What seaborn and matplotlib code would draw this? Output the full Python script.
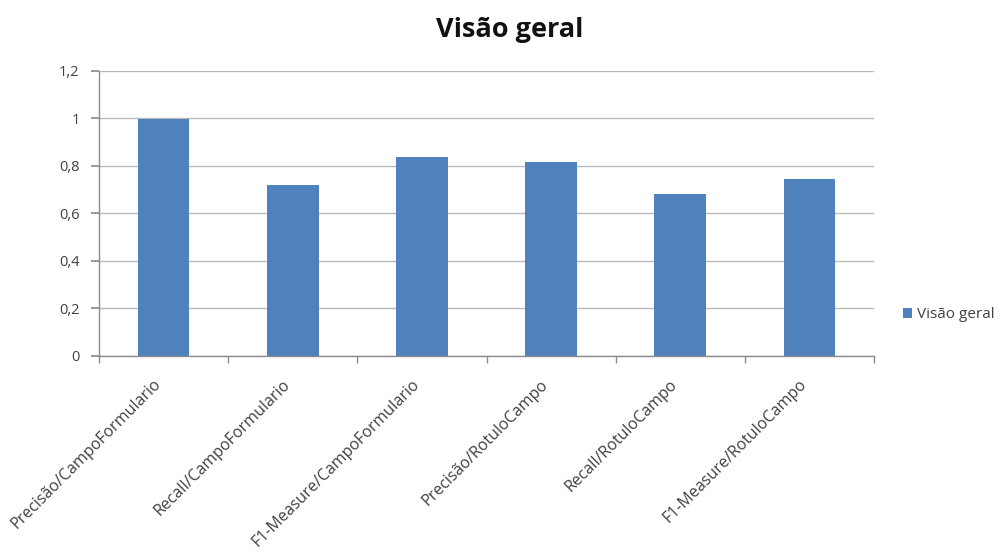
import matplotlib
matplotlib.use("Agg")
import matplotlib.pyplot as plt
import matplotlib.transforms as mtransforms
import seaborn as sns
import pandas as pd
import numpy as np

categories = ["Precisão/CampoFormulario", "Recall/CampoFormulario", "F1-Measure/CampoFormulario",
              "Precisão/RotuloCampo", "Recall/RotuloCampo", "F1-Measure/RotuloCampo"]
values = [0.997, 0.721, 0.838, 0.818, 0.683, 0.746]
series_name = "Visão geral"
yticks = [0, 0.2, 0.4, 0.6, 0.8, 1.0, 1.2]
ytick_labels = ["0", "0,2", "0,4", "0,6", "0,8", "1", "1,2"]

sns.set_theme(style="white")
plt.rcParams['font.family'] = ['Open Sans', 'DejaVu Sans']

df = pd.DataFrame({"cat": categories, "val": values, "serie": series_name})

fig = plt.figure(figsize=(10.03, 5.54), dpi=100)
ax = fig.add_axes([0.0987, 0.358, 0.7727, 0.514])

sns.barplot(data=df, x="cat", y="val", hue="serie", palette=["#4F81BD"], width=0.4,
            ax=ax, saturation=1, edgecolor="none")

ax.set_ylim(0, 1.2)
ax.set_xlim(-0.5, len(categories) - 0.5)
ax.set_yticks(yticks)
ax.set_yticklabels(ytick_labels, fontsize=10.5, color="#404040")
ax.yaxis.grid(True, color="#B9B9B9", linewidth=1)
ax.set_axisbelow(True)
ax.set_xlabel("")
ax.set_ylabel("")

for s in ["top", "right"]:
    ax.spines[s].set_visible(False)
for s in ["left", "bottom"]:
    ax.spines[s].set_color("#8C8C8C")
    ax.spines[s].set_linewidth(1)

ax.tick_params(axis="y", which="major", left=True, length=6, color="#8C8C8C", pad=8)
ax.tick_params(axis="x", which="major", bottom=False, length=0, pad=19)
ax.set_xticks(np.arange(-0.5, len(categories)), minor=True)
ax.tick_params(axis="x", which="minor", bottom=True, length=5, color="#8C8C8C", direction="out")

offset = mtransforms.ScaledTranslation(-5 / 100, 0, fig.dpi_scale_trans)
ax.set_xticks(range(len(categories)))
ax.set_xticklabels(categories, rotation=45, ha="right", va="center", rotation_mode="anchor",
                   fontsize=11.5, color="#404040")
for lab in ax.get_xticklabels():
    lab.set_transform(lab.get_transform() + offset)

fig.suptitle("Visão geral", x=0.508, y=0.97, fontsize=19.5, fontweight="bold", color="#111111")

leg = ax.legend(loc="center left", bbox_to_anchor=(1.02, 0.143), frameon=False, fontsize=11,
                handlelength=0.6, handleheight=0.6, handletextpad=0.3)
for t in leg.get_texts():
    t.set_color("#404040")

fig.savefig("out.png", dpi=100)
